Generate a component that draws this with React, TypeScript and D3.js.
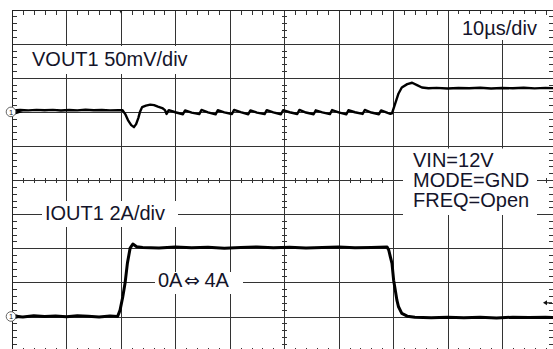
import React from 'react';
import * as d3 from 'd3';

const W = 553;
const H = 349;

// Horizontal: 10 µs/div, 10 divisions; vertical: 10 divisions
const timeDomain = [0, 100];
const divDomain = [-5, 5];

// Channel settings
const voutOffsetDiv = 2;
const voutMvPerDiv = 50;
const ioutOffsetDiv = -4;
const ioutAPerDiv = 2;

// VOUT1 trace (time µs, deviation mV)
const voutT = [
  0, 1.5, 3, 4.5, 6, 7.5, 9, 10.5, 12, 13.5, 15, 16.5, 18, 19.5, 20.3,
  20.8, 21.3, 21.9, 22.4, 22.8, 23.2, 23.5, 23.9, 24.6, 25.4, 26.1, 26.8, 27.6, 28.1,
  28.4, 28.8, 30.0, 31.4, 31.8, 33.0, 34.4, 34.8, 36.0, 37.4, 37.8, 39.0,
  40.4, 40.8, 42.0, 43.4, 43.8, 45.0, 46.4, 46.8, 48.0, 49.4, 49.8, 51.0,
  52.4, 52.8, 54.0, 55.4, 55.8, 57.0, 58.4, 58.8, 60.0, 61.4, 61.8, 63.0,
  64.4, 64.8, 66.0, 67.4, 67.8, 69.0, 69.5, 69.8,
  70.4, 71.0, 71.6, 72.6, 73.5, 74.4, 75.3, 76.5, 78, 80, 82, 84, 86, 88, 90, 92, 94, 96, 98, 100,
];
const voutMv = [
  2.0, 2.8, 2.2, 3.0, 2.4, 2.9, 2.1, 2.7, 2.3, 3.1, 2.5, 2.8, 2.2, 2.6, 2.4,
  -3.2, -12.0, -19.4, -22.3, -17.9, -9.1, -0.3, 7.0, 9.2, 10.7, 10.0, 7.8, 5.6, 2.6,
  -3.0, 2.6, -0.5, -3.4, 2.2, -1.0, -3.2, 2.8, -0.8, -3.6, 2.4, -0.6,
  -3.1, 3.0, -0.4, -3.4, 2.2, -1.0, -3.2, 2.6, -0.7, -3.5, 2.5, -0.5,
  -3.1, 2.9, -0.9, -3.4, 2.3, -0.6, -3.3, 2.7, -0.8, -3.6, 2.4, -0.5,
  -3.0, 2.8, -0.9, -3.4, 2.2, -1.5, -2.8, -2.2,
  12.4, 27.0, 35.8, 40.7, 42.7, 39.3, 35.8, 34.6, 35.3, 34.4, 35.1, 34.6, 35.4, 34.3, 35.0, 34.7, 35.4, 34.5, 35.2, 34.8,
];

// IOUT1 trace (time µs, current A)
const ioutT = [
  0, 2, 4, 6, 8, 10, 12, 14, 16, 18, 19.4, 19.85, 20.35, 20.77, 21.2, 21.7, 22.2, 22.9,
  24, 27, 30, 33, 36, 39, 42, 45, 48, 51, 54, 57, 60, 63, 66, 68.9,
  69.2, 69.5, 69.8, 70.1, 70.4, 70.7, 71.0, 71.6, 72.6,
  74, 77, 80, 83, 86, 89, 92, 95, 98, 100,
];
const ioutA = [
  0.02, -0.03, 0.04, 0.0, 0.03, -0.02, 0.05, 0.01, -0.03, 0.03, 0.0, 0.375, 1.155, 1.96, 3.13, 4.01, 4.25, 4.09,
  4.05, 4.02, 4.07, 4.03, 4.06, 4.01, 4.05, 4.08, 4.03, 4.06, 4.02, 4.05, 4.07, 4.03, 4.05, 4.07,
  3.9, 3.5, 3.11, 2.13, 1.55, 0.96, 0.57, 0.18, 0.02,
  -0.05, -0.08, -0.04, -0.07, -0.05, -0.09, -0.04, -0.06, -0.05, -0.07,
];

// Annotation texts
const voutLabel = 'VOUT1 50mV/div';
const ioutLabel = 'IOUT1 2A/div';
const timebaseLabel = '10µs/div';
const stepLabelParts = ['0A', '⇔', '4A'];
const conditionLines = ['VIN=12V', 'MODE=GND', 'FREQ=Open'];

const FONT = '"Liberation Sans", Arial, Helvetica, sans-serif';
const TEXT_COLOR = '#14142a';
const GRID = '#333';

export default function App() {
  const x = d3.scaleLinear().domain(timeDomain).range([12, 556.4]);
  const y = d3.scaleLinear().domain(divDomain).range([350.6, 9.6]);

  const vY = (mv: number) => y(voutOffsetDiv + mv / voutMvPerDiv);
  const iY = (a: number) => y(ioutOffsetDiv + a / ioutAPerDiv);

  const vData = voutT.map((t, i) => [t, voutMv[i]] as [number, number]);
  const iData = ioutT.map((t, i) => [t, ioutA[i]] as [number, number]);

  const vLine = d3.line<[number, number]>().x((d) => x(d[0])).y((d) => vY(d[1]));
  const iLine = d3.line<[number, number]>().x((d) => x(d[0])).y((d) => iY(d[1]));

  const px = (v: number) => Math.round(v) + 0.5;

  const majorT = d3.range(10, 100, 10);
  const majorV = d3.range(-4, 5, 1);
  const minorT = d3.range(0, 101, 2);
  const minorV = d3.range(-5, 5.01, 0.2);

  const left = px(x(0));
  const top = px(y(5));
  const rightEdge = 552.5;
  const bottomEdge = px(y(-5));
  const cx = px(x(50));
  const cy = px(y(0));

  const vGrid = majorT.map((t) => `M${px(x(t))},${top}V${H}`).join('');
  const hGrid = majorV.map((v) => `M${left},${px(y(v))}H${rightEdge}`).join('');
  let ticks = '';
  minorT.forEach((t) => {
    const xx = px(x(t));
    ticks += `M${xx},${top}V${top + 4}M${xx},${cy - 2.5}V${cy + 2.5}M${xx},${bottomEdge - 4}V${bottomEdge}`;
  });
  minorV.forEach((v) => {
    const yy = px(y(v));
    ticks += `M${left},${yy}H${left + 4}M${cx - 2.5},${yy}H${cx + 2.5}M${rightEdge - 4},${yy}H${rightEdge}`;
  });

  return (
    <svg
      width={W}
      height={H}
      viewBox={`0 0 ${W} ${H}`}
      style={{ position: 'absolute', left: 0, top: 0, background: '#fff' }}
    >
      <rect x={0} y={0} width={W} height={H} fill="#fff" />
      <g shapeRendering="crispEdges" fill="none">
        <path d={vGrid} stroke={GRID} strokeWidth={1} />
        <path d={hGrid} stroke={GRID} strokeWidth={1} />
        <path d={ticks} stroke={GRID} strokeWidth={1} />
        <path d={`M${left},${H}V${top}H551`} stroke="#222" strokeWidth={1} />
      </g>

      {/* label boxes masking the grid */}
      <g fill="#fff">
        <rect x={28} y={46} width={164} height={28} />
        <rect x={455} y={14} width={86} height={26} />
        <rect x={42} y={201} width={136} height={26} />
        <rect x={155} y={272} width={88} height={22} />
        <rect x={403} y={148.5} width={134} height={66.5} />
      </g>

      <g fontFamily={FONT} fontSize={20} fill={TEXT_COLOR}>
        <text x={32} y={66}>{voutLabel}</text>
        <text x={462} y={35}>{timebaseLabel}</text>
        <text x={45} y={220}>{ioutLabel}</text>
        <text x={158} y={287}>{stepLabelParts[0]}</text>
        <text x={192} y={287} fontSize={19} textAnchor="middle" fontFamily='"DejaVu Sans", sans-serif'>{stepLabelParts[1]}</text>
        <text x={204.5} y={287}>{stepLabelParts[2]}</text>
        {conditionLines.map((s, i) => (
          <text key={s} x={413} y={167 + i * 20}>{s}</text>
        ))}
      </g>

      {/* traces */}
      <path d={vLine(vData) || ''} fill="none" stroke="#000" strokeWidth={2.4} strokeLinejoin="round" />
      <path d={iLine(iData) || ''} fill="none" stroke="#000" strokeWidth={3} strokeLinejoin="round" />

      {/* channel markers */}
      {[vY(0), iY(0)].map((yy, i) => (
        <g key={'m' + i}>
          <path d={`M15,${yy - 2.5} L23,${yy} L15,${yy + 2.5} Z`} fill="#000" />
          <circle cx={11} cy={yy} r={4.8} fill="#fff" stroke="#666" strokeWidth={1} />
          <text x={11} y={yy + 2.6} fontSize={7.5} fontFamily={FONT} textAnchor="middle" fill="#222">1</text>
        </g>
      ))}

      {/* trigger markers */}
      <path d={`M${x(20) - 1.5},${top} L${x(20) + 1.5},${top} L${x(20)},${top + 3} Z`} fill="#222" />
      <g stroke="#111" fill="#111">
        <line x1={546} x2={552} y1={iY(0.8)} y2={iY(0.8)} strokeWidth={1.2} />
        <path d={`M543,${iY(0.8)} L547,${iY(0.8) - 2.5} L547,${iY(0.8) + 2.5} Z`} stroke="none" />
      </g>
    </svg>
  );
}
